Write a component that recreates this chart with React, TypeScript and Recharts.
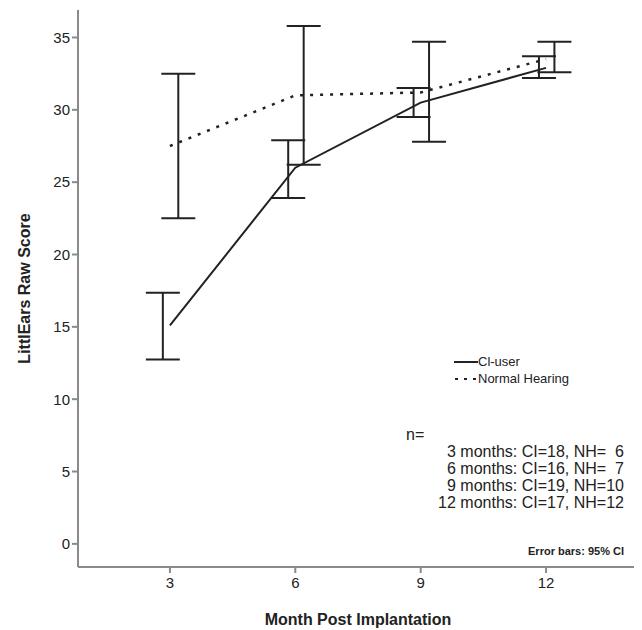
import React from "react";
import {
  ComposedChart,
  Line,
  Scatter,
  ErrorBar,
  XAxis,
  YAxis,
} from "recharts";

const months = [3, 6, 9, 12];
const ciMean = [15.1, 26.0, 30.5, 32.9];
const ciLow = [12.75, 23.9, 29.5, 32.2];
const ciHigh = [17.35, 27.9, 31.5, 33.7];
const nhMean = [27.5, 31.0, 31.2, 33.5];
const nhLow = [22.5, 26.2, 27.8, 32.6];
const nhHigh = [32.5, 35.8, 34.7, 34.7];
const yTicks = [0, 5, 10, 15, 20, 25, 30, 35];
const nLines = [
  "3 months: CI=18, NH=  6",
  "6 months: CI=16, NH=  7",
  "9 months: CI=19, NH=10",
  "12 months: CI=17, NH=12",
];

const CI_DODGE = -0.17;
const NH_DODGE = 0.2;

const ciLine = months.map((m, i) => ({ x: m, y: ciMean[i] }));
const nhLine = months.map((m, i) => ({ x: m, y: nhMean[i] }));
const ciBars = months.map((m, i) => ({
  x: m + CI_DODGE,
  y: ciMean[i],
  err: [ciMean[i] - ciLow[i], ciHigh[i] - ciMean[i]],
}));
const nhBars = months.map((m, i) => ({
  x: m + NH_DODGE,
  y: nhMean[i],
  err: [nhMean[i] - nhLow[i], nhHigh[i] - nhMean[i]],
}));

const FONT = "'Liberation Sans', Arial, sans-serif";
const INK = "#222";
const AXIS = "#8a8a8a";

const Nothing = () => <g />;

export default function App() {
  return (
    <div style={{ position: "relative", width: 634, height: 622, fontFamily: FONT }}>
      <ComposedChart
        width={634}
        height={622}
        margin={{ top: 2, right: 4, bottom: 3, left: 38 }}
      >
        <XAxis
          type="number"
          dataKey="x"
          domain={[0.8, 14.2]}
          ticks={months}
          allowDataOverflow
          stroke={AXIS}
          strokeWidth={2}
          tickSize={6}
          tickMargin={4}
          tick={{ fill: INK, fontSize: 15, fontFamily: FONT }}
          height={60}
          label={{
            value: "Month Post Implantation",
            position: "insideBottom",
            offset: 2,
            style: { fontWeight: "bold", fontSize: 16, fill: INK, fontFamily: FONT },
          }}
        />
        <YAxis
          type="number"
          dataKey="y"
          domain={[-1.6, 36.9]}
          ticks={yTicks}
          allowDataOverflow
          stroke={AXIS}
          strokeWidth={2}
          tickSize={6}
          width={32}
          tick={{ fill: INK, fontSize: 15, fontFamily: FONT }}
          label={{
            value: "LittlEars Raw Score",
            angle: -90,
            position: "insideLeft",
            offset: -22,
            style: { fontWeight: "bold", fontSize: 16, fill: INK, fontFamily: FONT, textAnchor: "middle" },
          }}
        />
        <Line
          data={ciLine}
          dataKey="y"
          stroke={INK}
          strokeWidth={2}
          dot={false}
          isAnimationActive={false}
          legendType="none"
        />
        <Line
          data={nhLine}
          dataKey="y"
          stroke={INK}
          strokeWidth={2.5}
          strokeDasharray="3 7"
          dot={false}
          isAnimationActive={false}
          legendType="none"
        />
        <Scatter data={ciBars} dataKey="y" shape={<Nothing />} isAnimationActive={false} legendType="none">
          <ErrorBar dataKey="err" direction="y" width={17} stroke={INK} strokeWidth={2} />
        </Scatter>
        <Scatter data={nhBars} dataKey="y" shape={<Nothing />} isAnimationActive={false} legendType="none">
          <ErrorBar dataKey="err" direction="y" width={17} stroke={INK} strokeWidth={2} />
        </Scatter>
      </ComposedChart>
      <div
        style={{
          position: "absolute",
          left: 446,
          top: 345,
          fontSize: 13,
          color: INK,
          lineHeight: "17px",
        }}
      >
        <div style={{ display: "flex", alignItems: "center" }}>
          <svg width={24} height={10}>
            <line x1={0} y1={5} x2={24} y2={5} stroke={INK} strokeWidth={2} />
          </svg>
          <span>Cl-user</span>
        </div>
        <div style={{ display: "flex", alignItems: "center" }}>
          <svg width={24} height={10}>
            <line x1={1} y1={5} x2={24} y2={5} stroke={INK} strokeWidth={2} strokeDasharray="3 6" />
          </svg>
          <span>Normal Hearing</span>
        </div>
      </div>
      <div
        style={{
          position: "absolute",
          left: 398,
          top: 418,
          fontSize: 16,
          color: INK,
          lineHeight: "17px",
          whiteSpace: "pre",
        }}
      >
        <div>n=</div>
        <div style={{ textAlign: "right", width: 218 }}>
          {nLines.map((t) => (
            <div key={t}>{t}</div>
          ))}
        </div>
      </div>
      <div
        style={{
          position: "absolute",
          left: 490,
          top: 537,
          width: 126,
          textAlign: "right",
          fontSize: 11,
          fontWeight: "bold",
          color: INK,
        }}
      >
        Error bars: 95% CI
      </div>
    </div>
  );
}
